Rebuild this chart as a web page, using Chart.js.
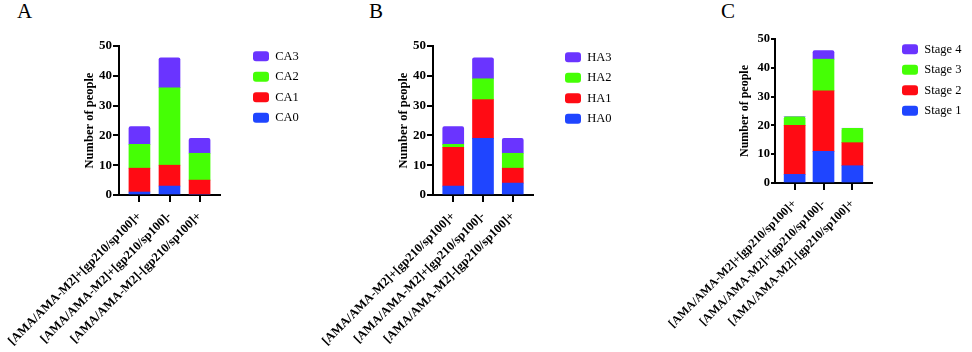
<!DOCTYPE html>
<html>
<head>
<meta charset="utf-8">
<script src="https://cdn.jsdelivr.net/npm/chart.js@4.4.1/dist/chart.umd.min.js"></script>
<style>
  html, body { margin: 0; padding: 0; background: #fff; }
  #wrap { position: relative; width: 972px; height: 352px; overflow: hidden; }
  .panel { position: absolute; top: 0; }
  .letter { position: absolute; top: 1px; font-family: 'Liberation Serif', serif; font-size: 21px; line-height: 21px; color: #000; }
</style>
</head>
<body>
<div id="wrap">
  <div class="letter" style="left:17px">A</div>
  <div class="letter" style="left:369px">B</div>
  <div class="letter" style="left:721px">C</div>
  <canvas class="panel" id="chartA" width="320" height="352" style="left:0px"></canvas>
  <canvas class="panel" id="chartB" width="320" height="352" style="left:320px"></canvas>
  <canvas class="panel" id="chartC" width="332" height="352" style="left:640px"></canvas>
</div>
<script>
// categories shared by the three panels
const groups = ['[AMA/AMA-M2]+[gp210/sp100]+', '[AMA/AMA-M2]+[gp210/sp100]-', '[AMA/AMA-M2]-[gp210/sp100]+'];

// panel A
const caNames = ['CA0', 'CA1', 'CA2', 'CA3'];
const ca0 = [1, 3, 0];
const ca1 = [8, 7, 5];
const ca2 = [8, 26, 9];
const ca3 = [6, 10, 5];

// panel B
const haNames = ['HA0', 'HA1', 'HA2', 'HA3'];
const ha0 = [3, 19, 4];
const ha1 = [13, 13, 5];
const ha2 = [1, 7, 5];
const ha3 = [6, 7, 5];

// panel C
const stageNames = ['Stage 1', 'Stage 2', 'Stage 3', 'Stage 4'];
const stage1 = [3, 11, 6];
const stage2 = [17, 21, 8];
const stage3 = [3, 11, 5];
const stage4 = [0, 3, 0];

const yMax = 50;
const yStep = 10;

const colors = ['#1f45ff', '#ff0b14', '#45ff05', '#6a34ff'];

Chart.defaults.font.family = "'Liberation Serif', serif";
Chart.defaults.color = '#000';

// fixed legend width + offset, so the legend sits where the figure has it
const legendPlace = {
  id: 'legendPlace',
  beforeLayout(chart, args, opts) {
    const legend = chart.legend;
    if (!legend || legend._placed) return;
    const fit = legend.fit;
    legend.fit = function () {
      fit.call(this);
      this.width = opts.width;
    };
    legend._placed = true;
  },
  afterLayout(chart, args, opts) {
    const legend = chart.legend;
    legend.left += opts.dx;
    legend.right += opts.dx;
    legend.top += opts.dy;
    legend.bottom += opts.dy;
  },
};

const makeChart = (id, names, series, box) => {
  const datasets = series.map((values, i) => ({
    label: names[i],
    data: values.map((v, j) => ({ x: j, y: v })),
    backgroundColor: colors[i],
    borderWidth: 0,
    borderRadius: 2,
    barThickness: 21,
  }));

  return new Chart(document.getElementById(id), {
    type: 'bar',
    data: { datasets },
    plugins: [legendPlace],
    options: {
      responsive: false,
      animation: false,
      devicePixelRatio: 1,
      layout: { padding: { left: box.padLeft, top: box.padTop, right: 0, bottom: 0 } },
      plugins: {
        tooltip: { enabled: false },
        legend: {
          position: 'right',
          align: 'start',
          reverse: true,
          labels: {
            boxWidth: 16,
            boxHeight: 10,
            padding: 8,
            useBorderRadius: true,
            borderRadius: 3,
            font: { size: 12.5 },
          },
        },
        legendPlace: { width: box.legendWidth, dx: box.legendDx, dy: box.legendDy },
      },
      scales: {
        x: {
          type: 'linear',
          stacked: true,
          offset: false,
          min: -0.68,
          max: groups.length - 1 + 0.68,
          afterBuildTicks: (scale) => { scale.ticks = groups.map((g, i) => ({ value: i })); },
          afterFit: (scale) => {
            // keep the long rotated labels from pushing the plot to the right
            scale.height = box.xHeight;
            scale.paddingLeft = 0;
            scale.paddingRight = 0;
          },
          ticks: {
            autoSkip: false,
            minRotation: 45,
            maxRotation: 45,
            padding: 7,
            font: { size: box.labelSize, weight: 'bold' },
            callback: (value) => groups[value],
          },
          grid: { offset: false, drawOnChartArea: false, color: '#000', lineWidth: 2, tickLength: 7 },
          border: { color: '#000', width: 2 },
        },
        y: {
          stacked: true,
          min: 0,
          max: yMax,
          afterFit: (scale) => { scale.width = 41; },
          ticks: { stepSize: yStep, padding: 1, font: { size: box.tickSize, weight: 'bold' } },
          title: { display: true, text: 'Number of people', font: { size: box.labelSize, weight: 'bold' }, padding: { top: 4, bottom: 4 } },
          grid: { drawOnChartArea: false, color: '#000', lineWidth: 2, tickLength: box.yTick },
          border: { color: '#000', width: 2 },
        },
      },
    },
  });
};

makeChart('chartA', caNames, [ca0, ca1, ca2, ca3],
  { padLeft: 78, padTop: 46, xHeight: 157, legendWidth: 100, legendDx: 25, legendDy: -4, yTick: 6, tickSize: 13, labelSize: 12.5 });
makeChart('chartB', haNames, [ha0, ha1, ha2, ha3],
  { padLeft: 72, padTop: 46, xHeight: 157, legendWidth: 107, legendDx: 24, legendDy: -3, yTick: 6, tickSize: 13, labelSize: 12.5 });
makeChart('chartC', stageNames, [stage1, stage2, stage3, stage4],
  { padLeft: 94, padTop: 39, xHeight: 169, legendWidth: 100, legendDx: 22, legendDy: -4, yTick: 4, tickSize: 12.5, labelSize: 12 });
</script>
</body>
</html>
